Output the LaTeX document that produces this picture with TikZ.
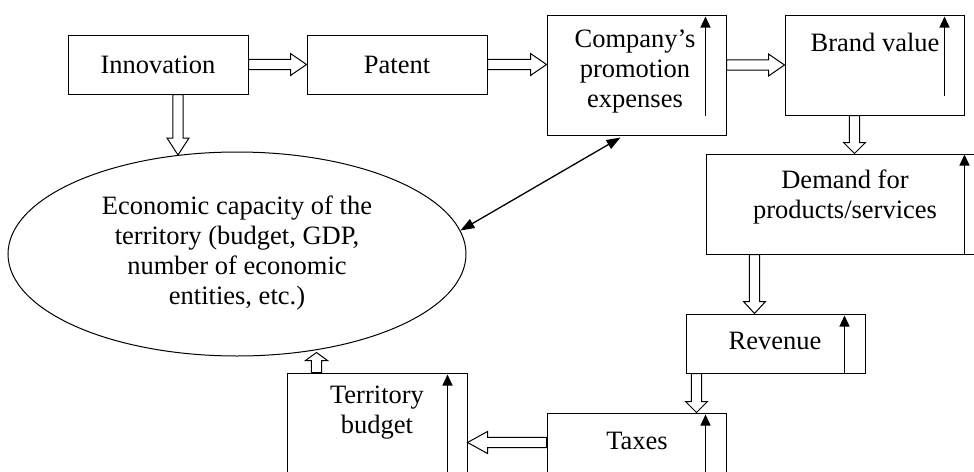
\documentclass[tikz,border=0pt]{standalone}
\usepackage{fontspec}
\setmainfont{Liberation Serif}
\usetikzlibrary{calc,shapes.geometric,arrows.meta}
\tikzset{
  box/.style={draw, line width=1pt, rectangle, inner sep=0pt},
  txt/.style={align=center, inner sep=0pt, font=\fontsize{26.5}{30}\selectfont},
  hollowline/.style={draw, line width=1pt, fill=white, line join=miter},
  uparr/.style={line width=1.3pt, -{Triangle[length=11pt,width=10pt]}},
  dblarr/.style={line width=1.3pt, {Triangle[length=14pt,width=10pt]}-{Triangle[length=14pt,width=10pt]}}
}
% hollow arrow from #1 to #2, head length #3
\newcommand\hollowarrow[3]{%
  \path[hollowline] let \p1=(#1), \p2=(#2),
    \n1={veclen(\x2-\x1,\y2-\y1)},
    \n2={(\x2-\x1)/\n1}, \n3={(\y2-\y1)/\n1} in
    ({\x1-\n3*5.2},{\y1+\n2*5.2})
    -- ({\x2-\n2*#3-\n3*5.2},{\y2-\n3*#3+\n2*5.2})
    -- ({\x2-\n2*#3-\n3*11},{\y2-\n3*#3+\n2*11})
    -- (\x2,\y2)
    -- ({\x2-\n2*#3+\n3*11},{\y2-\n3*#3-\n2*11})
    -- ({\x2-\n2*#3+\n3*5.2},{\y2-\n3*#3-\n2*5.2})
    -- ({\x1+\n3*5.2},{\y1-\n2*5.2}) -- cycle;}
\begin{document}
\begin{tikzpicture}[x=1pt,y=-1pt]
\useasboundingbox (0,0) rectangle (974,471);
% boxes
\node[box, minimum width=180pt, minimum height=59pt] (innov) at (158,64.5) {};
\node[txt] (innovt) at (innov) {Innovation};
\node[box, minimum width=180pt, minimum height=59pt] (patent) at (397,64.5) {};
\node[txt] (patentt) at (patent) {Patent};
\node[box, minimum width=179pt, minimum height=120pt] (comp) at (636.5,75) {};
\node[txt] (compt) at (635,72) {Company’s\\promotion\\expenses};
\node[box, minimum width=179pt, minimum height=100pt] (brand) at (874.5,65) {};
\node[txt] (brandt) at (875,42) {Brand value};
\node[box, minimum width=274pt, minimum height=100pt] (demand) at (843,204) {};
\node[txt] (demandt) at (845,197) {Demand for\\products/services};
\node[box, minimum width=179pt, minimum height=59pt] (rev) at (775.5,343.5) {};
\node[txt] (revt) at (775,341) {Revenue};
\node[box, minimum width=179pt, minimum height=120pt] (taxes) at (636.5,473) {};
\node[txt] (taxest) at (637,441) {Taxes};
\node[box, minimum width=180pt, minimum height=120pt] (terr) at (377,433) {};
\node[txt] (terrt) at (377,413) {Territory\\budget};
\node[draw, line width=1pt, ellipse, minimum width=458pt, minimum height=204pt, inner sep=0pt] (ell) at (237,254) {};
\node[txt] (ellt) at (237,253) {Economic capacity of the\\territory (budget, GDP,\\number of economic\\entities, etc.)};
% inner up arrows
\draw[uparr] ($(comp.south west)+(159,-20)$) -- ($(comp.north west)+(159,2)$);
\draw[uparr] ($(brand.south west)+(160,-20)$) -- ($(brand.north west)+(160,2)$);
\draw[uparr] ($(demand.south west)+(259,0)$) -- ($(demand.north west)+(259,1)$);
\draw[uparr] ($(rev.south west)+(159,0)$) -- ($(rev.north west)+(159,2)$);
\draw[uparr] ($(taxes.south west)+(159,0)$) -- ($(taxes.north west)+(159,2)$);
\draw[uparr] ($(terr.south west)+(161,0)$) -- ($(terr.north west)+(161,2)$);
% hollow arrows
\coordinate (i1) at ($(innov.south)+(20,0)$);
\coordinate (i2) at (i1 |- ell.121);
\hollowarrow{i1}{i2}{17}
\hollowarrow{innov.east}{patent.west}{16}
\hollowarrow{patent.east}{comp.west |- patent.east}{16}
\hollowarrow{comp.east |- brand.west}{brand.west}{16}
\coordinate (b1) at ($(brand.south west)+(70,0)$);
\hollowarrow{b1}{demand.north -| b1}{11}
\coordinate (d1) at ($(demand.south west)+(49,0)$);
\hollowarrow{d1}{rev.north -| d1}{12}
\coordinate (r1) at ($(rev.south west)+(11,0)$);
\hollowarrow{r1}{taxes.north -| r1}{11}
\coordinate (t1) at ($(taxes.north west)+(0,30)$);
\hollowarrow{t1}{terr.east |- t1}{20}
\coordinate (e1) at ($(terr.north west)+(30,0)$);
\coordinate (e2) at ($(terr.north west)+(30,-20)$);
\hollowarrow{e1}{e2}{8}
% double arrow
\coordinate (c1) at ($(comp.south)+(-16,2)$);
\draw[dblarr] (c1) -- (ell.6);
\end{tikzpicture}
\end{document}
